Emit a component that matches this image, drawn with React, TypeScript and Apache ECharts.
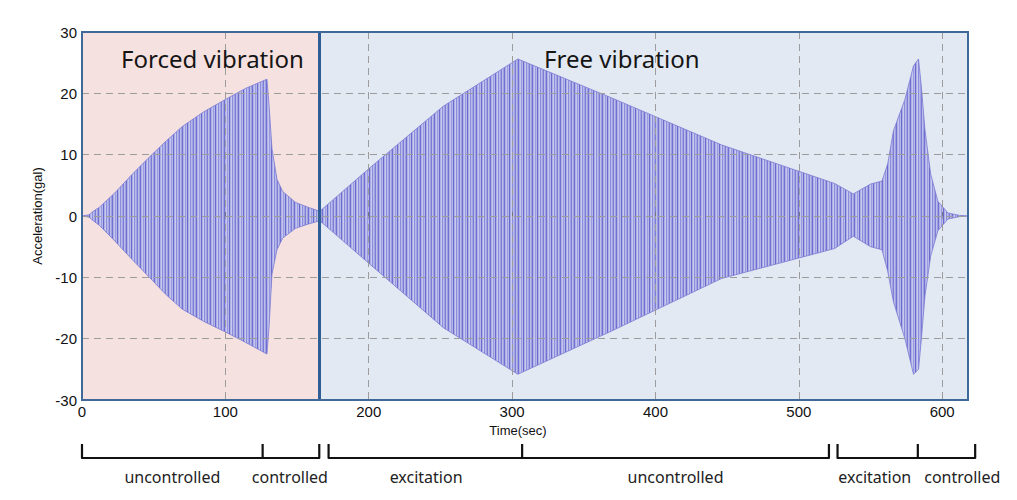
import React, { useEffect, useRef } from "react";
import * as echarts from "echarts";

// ---- data ----
const timeSec = [0, 5, 8, 12, 23, 35, 47, 58.5, 70, 85, 100, 114, 129, 130.5, 132.5, 136, 140, 149, 158, 165.5, 168, 201, 252, 304, 369, 446, 525, 538, 550, 558, 562, 566, 574, 580, 583.5, 585.5, 588, 592, 597, 604, 612, 618];
const upperEnv = [0, 0.2, 0.8, 1.4, 3.8, 6.8, 9.6, 12.2, 14.6, 17, 19, 20.8, 22.3, 18, 11, 6, 4, 2.2, 1.4, 0.8, 1.2, 7.9, 17.9, 25.6, 19.3, 11.6, 5.3, 3.6, 5.2, 5.7, 8.5, 13.9, 19, 24.5, 25.6, 21, 14, 6.8, 2.4, 0.5, 0.1, 0];
const lowerEnv = [0, -0.2, -0.8, -1.5, -4.1, -7.1, -10, -12.8, -15.2, -17.2, -18.9, -20.6, -22.5, -18, -9.5, -5.5, -3.6, -2, -1.3, -0.8, -1.2, -7.9, -18.2, -25.8, -18.8, -10.2, -5.3, -3.3, -5, -5.5, -9, -14, -20, -25.8, -25, -20, -13, -6.5, -2.4, -0.5, -0.1, 0];

const regionNames = ["Forced vibration", "Free vibration"];
const regionStart = [0, 165.5];
const regionEnd = [165.5, 618];
const regionTitleAt = [91, 376.5];
const regionTitleValue = 25.6;

const bracketSpans = [[0, 165.5], [172, 521], [527, 623]];
const bracketTicks = [126, 307, 583];
const phaseLabels = ["uncontrolled", "controlled", "excitation", "uncontrolled", "excitation", "controlled"];
const phaseLabelAt = [63, 145, 240, 414, 553, 614];

const xMin = 0;
const xMax = 618;
const xInterval = 100;
const yMin = -30;
const yMax = 30;
const yInterval = 10;

// ---- styles ----
const regionColors = ["#f5e1e0", "#e3e9f2"];
const stripeCols = ["#7070d2", "#aeb0e6", "#c4c6ee", "#9a9ae0", "#b6b8e8", "#6a6ace", "#acaee6", "#c8caef", "#8c8cdc", "#b8bae9", "#a2a4e4", "#7c7cd6", "#bcbeea", "#9fa0e2"];

function makeStripe(): HTMLCanvasElement {
  const c = document.createElement("canvas");
  c.width = stripeCols.length;
  c.height = 4;
  const ctx = c.getContext("2d")!;
  stripeCols.forEach((col, i) => {
    ctx.fillStyle = col;
    ctx.fillRect(i, 0, 1, 4);
  });
  return c;
}

export default function App() {
  const ref = useRef<HTMLDivElement>(null);
  useEffect(() => {
    if (!ref.current) return;
    const chart = echarts.init(ref.current, undefined, { renderer: "svg" });
    const stripe = makeStripe();
    const pattern: any = { image: stripe, repeat: "repeat", imageWidth: stripe.width, imageHeight: stripe.height };
    const upper = timeSec.map((t, i) => [t, upperEnv[i]]);
    const lower = timeSec.map((t, i) => [t, lowerEnv[i]]);
    const axisFont = "'Liberation Sans', Arial, sans-serif";
    const option: any = {
      animation: false,
      grid: { left: 82, right: 49, top: 32, bottom: 100, show: true, borderColor: "#40699a", borderWidth: 2, backgroundColor: "transparent", z: 10 },
      xAxis: {
        type: "value",
        min: xMin,
        max: xMax,
        interval: xInterval,
        z: 5,
        name: "Time(sec)",
        nameLocation: "middle",
        nameGap: 24,
        nameTextStyle: { fontFamily: axisFont, fontSize: 13, color: "#111", padding: [0, 14, 0, 0] },
        axisLine: { show: false },
        axisTick: { show: true, inside: true, length: 4, lineStyle: { color: "#777" } },
        axisLabel: {
          margin: 4,
          fontFamily: axisFont,
          fontSize: 15,
          color: "#111",
          formatter: (v: number) => (v % xInterval === 0 ? String(v) : ""),
        },
        splitLine: { show: true, lineStyle: { color: "#9c9c9c", type: [7, 5], width: 1 } },
      },
      yAxis: {
        type: "value",
        min: yMin,
        max: yMax,
        interval: yInterval,
        z: 5,
        name: "Acceleration(gal)",
        nameLocation: "middle",
        nameGap: 35,
        nameTextStyle: { fontFamily: axisFont, fontSize: 13, color: "#111" },
        axisLine: { show: false },
        axisTick: { show: false },
        axisLabel: { margin: 5, fontFamily: axisFont, fontSize: 15, color: "#111" },
        splitLine: { show: true, lineStyle: { color: "#9c9c9c", type: [7, 5], width: 1 } },
      },
      series: [
        {
          type: "line",
          z: 1,
          data: [[0, 0]],
          showSymbol: false,
          symbol: "none",
          lineStyle: { width: 0, opacity: 0 },
          silent: true,
          markArea: {
            silent: true,
            data: regionNames.map((n, i) => [
              { xAxis: regionStart[i], itemStyle: { color: regionColors[i] } },
              { xAxis: regionEnd[i] },
            ]),
            label: { show: false },
          },
        },
        {
          type: "line",
          z: 2,
          name: "upper",
          data: upper,
          symbol: "none",
          lineStyle: { width: 0.8, color: "#7a7ad4" },
          areaStyle: { color: pattern, opacity: 1 },
          markLine: {
            silent: true,
            symbol: "none",
            label: { show: false },
            lineStyle: { color: "#2f5e94", width: 3, type: "solid" },
            data: [{ xAxis: regionStart[1] }],
          },
        },
        {
          type: "line",
          z: 2,
          name: "lower",
          data: lower,
          symbol: "none",
          lineStyle: { width: 0.8, color: "#7a7ad4" },
          areaStyle: { color: pattern, opacity: 1 },
        },
      ],
    };
    chart.setOption(option);

    const px = (t: number, v = 0) => chart.convertToPixel({ gridIndex: 0 }, [t, v]) as number[];
    const graphics: any[] = [];
    regionNames.forEach((n, i) => {
      const p = px(regionTitleAt[i], regionTitleValue);
      graphics.push({
        type: "text",
        x: p[0],
        y: p[1],
        z: 20,
        style: { text: n, fontFamily: "'Noto Sans', 'Open Sans', sans-serif", fontSize: 24, fill: "#151515", align: "center", verticalAlign: "middle" },
      });
    });
    const lineY = 458;
    const tickTop = 444;
    bracketSpans.forEach(([a, b]) => {
      const xa = px(a)[0];
      const xb = px(b)[0];
      graphics.push({
        type: "polyline",
        shape: { points: [[xa, tickTop], [xa, lineY], [xb, lineY], [xb, tickTop]] },
        style: { stroke: "#111", lineWidth: 2.2, fill: null, lineJoin: "round" },
      });
    });
    bracketTicks.forEach((t) => {
      const x = px(t)[0];
      graphics.push({
        type: "line",
        shape: { x1: x, y1: tickTop, x2: x, y2: lineY },
        style: { stroke: "#111", lineWidth: 2.2 },
      });
    });
    phaseLabels.forEach((l, i) => {
      const x = px(phaseLabelAt[i])[0];
      graphics.push({
        type: "text",
        x,
        y: 477,
        style: { text: l, fontFamily: "'Noto Sans', 'Open Sans', sans-serif", fontSize: 16, fill: "#222", align: "center", verticalAlign: "middle" },
      });
    });
    chart.setOption({ graphic: graphics });

    return () => chart.dispose();
  }, []);
  return <div ref={ref} style={{ position: "fixed", left: 0, top: 0, width: 1017, height: 500, background: "#fff" }} />;
}
